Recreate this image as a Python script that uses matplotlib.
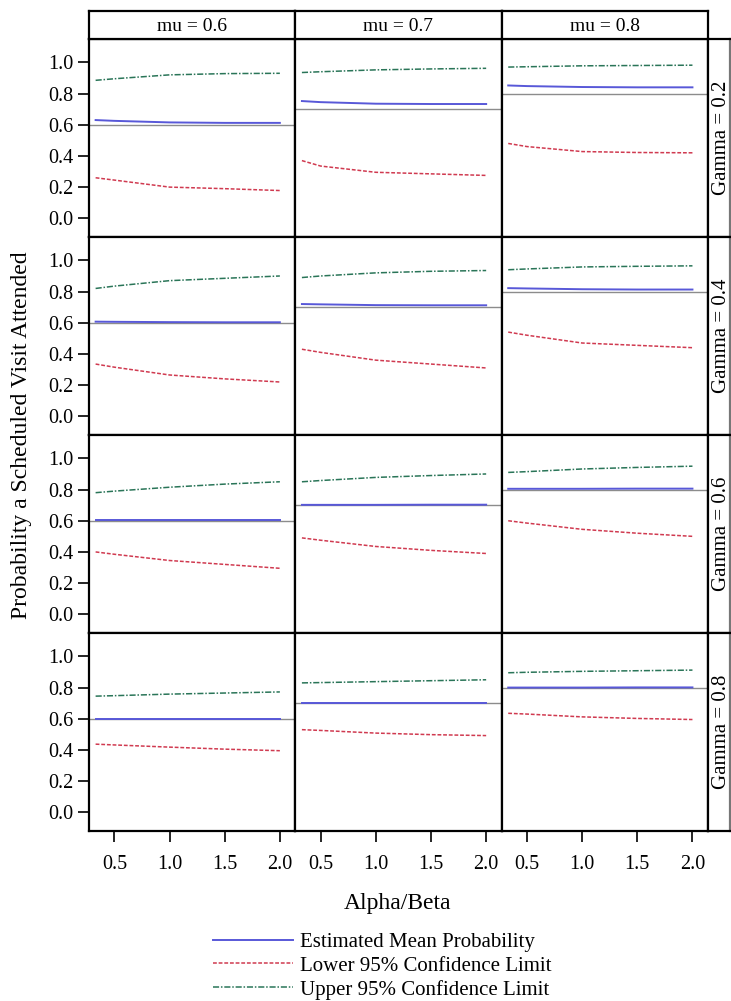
import numpy as np
import matplotlib
matplotlib.use("Agg")
import matplotlib.pyplot as plt

plt.rcParams['font.family'] = ['Liberation Serif', 'DejaVu Serif']

# data
alpha_beta = [0.33, 0.5, 1.0, 1.5, 2.0]
mus = [0.6, 0.7, 0.8]
gammas = [0.2, 0.4, 0.6, 0.8]
col_labels = ["mu = 0.6", "mu = 0.7", "mu = 0.8"]
row_labels = ["Gamma = 0.2", "Gamma = 0.4", "Gamma = 0.6", "Gamma = 0.8"]

# [gamma][mu] -> values over alpha_beta
mean_g02 = [[0.630, 0.625, 0.615, 0.612, 0.612],
            [0.752, 0.745, 0.735, 0.733, 0.733],
            [0.852, 0.848, 0.842, 0.840, 0.840]]
lower_g02 = [[0.260, 0.245, 0.200, 0.190, 0.178],
             [0.370, 0.335, 0.295, 0.285, 0.275],
             [0.480, 0.460, 0.428, 0.422, 0.420]]
upper_g02 = [[0.885, 0.895, 0.920, 0.928, 0.930],
             [0.935, 0.940, 0.952, 0.958, 0.962],
             [0.970, 0.972, 0.978, 0.980, 0.982]]

mean_g04 = [[0.607, 0.606, 0.604, 0.603, 0.603],
            [0.720, 0.718, 0.713, 0.712, 0.712],
            [0.822, 0.820, 0.815, 0.813, 0.813]]
lower_g04 = [[0.335, 0.315, 0.265, 0.240, 0.220],
             [0.430, 0.410, 0.360, 0.335, 0.310],
             [0.540, 0.520, 0.470, 0.455, 0.440]]
upper_g04 = [[0.820, 0.835, 0.870, 0.885, 0.900],
             [0.890, 0.900, 0.920, 0.930, 0.935],
             [0.940, 0.945, 0.958, 0.962, 0.965]]

mean_g06 = [[0.602, 0.602, 0.602, 0.602, 0.602],
            [0.702, 0.702, 0.702, 0.703, 0.703],
            [0.805, 0.805, 0.805, 0.806, 0.806]]
lower_g06 = [[0.400, 0.385, 0.345, 0.320, 0.295],
             [0.490, 0.475, 0.435, 0.410, 0.390],
             [0.600, 0.585, 0.545, 0.520, 0.500]]
upper_g06 = [[0.780, 0.790, 0.815, 0.835, 0.850],
             [0.850, 0.858, 0.878, 0.890, 0.900],
             [0.910, 0.915, 0.932, 0.942, 0.950]]

mean_g08 = [[0.600, 0.600, 0.600, 0.600, 0.600],
            [0.700, 0.700, 0.700, 0.700, 0.700],
            [0.800, 0.800, 0.800, 0.801, 0.801]]
lower_g08 = [[0.437, 0.432, 0.418, 0.405, 0.395],
             [0.530, 0.525, 0.508, 0.498, 0.492],
             [0.635, 0.630, 0.612, 0.602, 0.595]]
upper_g08 = [[0.745, 0.748, 0.758, 0.765, 0.772],
             [0.830, 0.832, 0.838, 0.844, 0.850],
             [0.895, 0.898, 0.904, 0.908, 0.912]]

means = [mean_g02, mean_g04, mean_g06, mean_g08]
lowers = [lower_g02, lower_g04, lower_g06, lower_g08]
uppers = [upper_g02, upper_g04, upper_g06, upper_g08]

W, H = 731, 1001
fig = plt.figure(figsize=(W/100, H/100), dpi=100)

def box(x, y, w, h):
    return [x/W, 1-(y+h)/H, w/W, h/H]

left, top = 89, 39
pw, ph = 206.3, 198
strip_h = 28

mean_col = '#5858d8'
low_col = '#d03a50'
up_col = '#2a7558'

handles = None
for r in range(4):
    for c in range(3):
        ax = fig.add_axes(box(left+c*pw, top+r*ph, pw, ph))
        ax.axhline(mus[c], color='#8c8c8c', lw=1.0, zorder=1)
        h1, = ax.plot(alpha_beta, means[r][c], color=mean_col, lw=1.4, zorder=3)
        h2, = ax.plot(alpha_beta, lowers[r][c], color=low_col, lw=1.1,
                      ls=(0, (2.5, 1.2)), zorder=3)
        h3, = ax.plot(alpha_beta, uppers[r][c], color=up_col, lw=1.1,
                      ls=(0, (4, 1.2, 1, 1.2)), zorder=3)
        handles = [h1, h2, h3]
        ax.set_xlim(0.27, 2.14)
        ax.set_ylim(-0.12, 1.15)
        ax.set_xticks([0.5, 1.0, 1.5, 2.0])
        ax.set_yticks([0.0, 0.2, 0.4, 0.6, 0.8, 1.0])
        for s in ax.spines.values():
            s.set_linewidth(1.6)
            s.set_color('black')
        ax.tick_params(direction='out', length=8, width=1.2, labelsize=14.5, pad=3)
        if c == 0:
            ax.set_yticklabels(["0.0", "0.2", "0.4", "0.6", "0.8", "1.0"])
        else:
            ax.tick_params(axis='y', left=False, labelleft=False)
        if r == 3:
            ax.set_xticklabels(["0.5", "1.0", "1.5", "2.0"])
            ax.tick_params(axis='x', pad=9)
        else:
            ax.tick_params(axis='x', bottom=False, labelbottom=False)

# column strips
for c in range(3):
    sa = fig.add_axes(box(left+c*pw, top-strip_h, pw, strip_h))
    sa.set_xticks([])
    sa.set_yticks([])
    for s in sa.spines.values():
        s.set_linewidth(1.6)
    sa.text(0.5, 0.45, col_labels[c], ha='center', va='center', fontsize=14,
            transform=sa.transAxes)

# row strips, cut by the right edge
for r in range(4):
    sa = fig.add_axes(box(left+3*pw, top+r*ph, 22, ph))
    sa.set_xticks([])
    sa.set_yticks([])
    for s in sa.spines.values():
        s.set_linewidth(1.6)
    sa.spines['right'].set_color('#777777')
    sa.text(0.62, 0.5, row_labels[r], ha='center', va='center', fontsize=15,
            rotation=90, transform=sa.transAxes)

fig.text(22/W, 1-435/H, "Probability a Scheduled Visit Attended", rotation=90,
         ha='center', va='center', fontsize=17)
fig.text(398/W, 1-903/H, "Alpha/Beta", ha='center', va='center', fontsize=17)

fig.legend(handles, ["Estimated Mean Probability", "Lower 95% Confidence Limit",
                     "Upper 95% Confidence Limit"],
           loc='upper left', bbox_to_anchor=(205/W, 1-924/H), frameon=False,
           fontsize=15, handlelength=3.8, labelspacing=0.2, handletextpad=0.35,
           borderaxespad=0)

fig.savefig("out.png", dpi=100)
